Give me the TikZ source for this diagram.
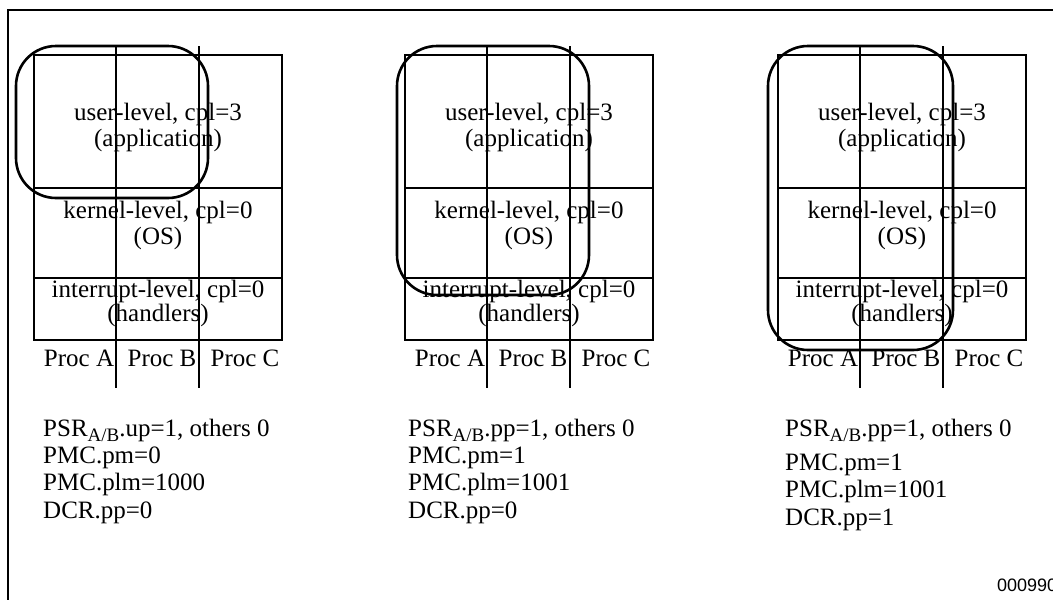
\documentclass[tikz,border=0pt]{standalone}
\usepackage{fontspec}
\setmainfont{Liberation Serif}
\newfontfamily\fignumfont{Liberation Sans}
\usepackage{tikz}

\newcommand{\regsub}[1]{\raisebox{-5pt}{\fontsize{19}{19}\selectfont #1}}

\begin{document}
\begin{tikzpicture}[x=1pt,y=-1pt,
  cell/.style={inner sep=0pt,anchor=base,font=\fontsize{25}{30}\selectfont},
  reg/.style={inner sep=0pt,anchor=base west,font=\fontsize{25}{30}\selectfont},
  gridline/.style={line width=1.8pt},
  group/.style={line width=2.6pt,rounded corners=40pt}]
\useasboundingbox (0,0) rectangle (1053,600);
\draw[line width=2pt] (8,10) rectangle (1090,640);

% level tables, one per case
\foreach \p/\dx in {1/0,2/371,3/744}{
  \draw[gridline] (34+\dx,55) rectangle (282+\dx,340);
  \draw[gridline] (34+\dx,188) -- (282+\dx,188);
  \draw[gridline] (34+\dx,278) -- (282+\dx,278);
  \draw[gridline] (116+\dx,46) -- (116+\dx,388);
  \draw[gridline] (199+\dx,46) -- (199+\dx,388);
  \node[cell] (user\p) at (158+\dx,120) {user-level, cpl=3};
  \node[cell] (app\p) at (158+\dx,146) {(application)};
  \node[cell] (kern\p) at (158+\dx,218) {kernel-level, cpl=0};
  \node[cell] (os\p) at (158+\dx,244) {(OS)};
  \node[cell] (intr\p) at (158+\dx,297) {interrupt-level, cpl=0};
  \node[cell] (hand\p) at (158+\dx,321) {(handlers)};
  \node[cell] (procA\p) at (79+\dx,366) {Proc A};
  \node[cell] (procB\p) at (162+\dx,366) {Proc B};
  \node[cell] (procC\p) at (245+\dx,366) {Proc C};
}

% monitored regions
\draw[group] (16,46) rectangle (208,198);
\draw[group] (397,46) rectangle (589,295);
\draw[group] (768,46) rectangle (953,350);

% register settings
\node[reg] (psr1) at (43,436) {PSR\regsub{A/B}.up=1, others 0};
\node[reg] (pm1) at (43,463) {PMC.pm=0};
\node[reg] (plm1) at (43,490) {PMC.plm=1000};
\node[reg] (dcr1) at (43,518) {DCR.pp=0};

\node[reg] (psr2) at (408,436) {PSR\regsub{A/B}.pp=1, others 0};
\node[reg] (pm2) at (408,463) {PMC.pm=1};
\node[reg] (plm2) at (408,490) {PMC.plm=1001};
\node[reg] (dcr2) at (408,518) {DCR.pp=0};

\node[reg] (psr3) at (785,436) {PSR\regsub{A/B}.pp=1, others 0};
\node[reg] (pm3) at (785,470) {PMC.pm=1};
\node[reg] (plm3) at (785,497) {PMC.plm=1001};
\node[reg] (dcr3) at (785,525) {DCR.pp=1};

\node[anchor=base west,inner sep=0pt,font=\fignumfont\fontsize{18}{20}\selectfont] (fignum) at (997,591) {000990};
\end{tikzpicture}
\end{document}
